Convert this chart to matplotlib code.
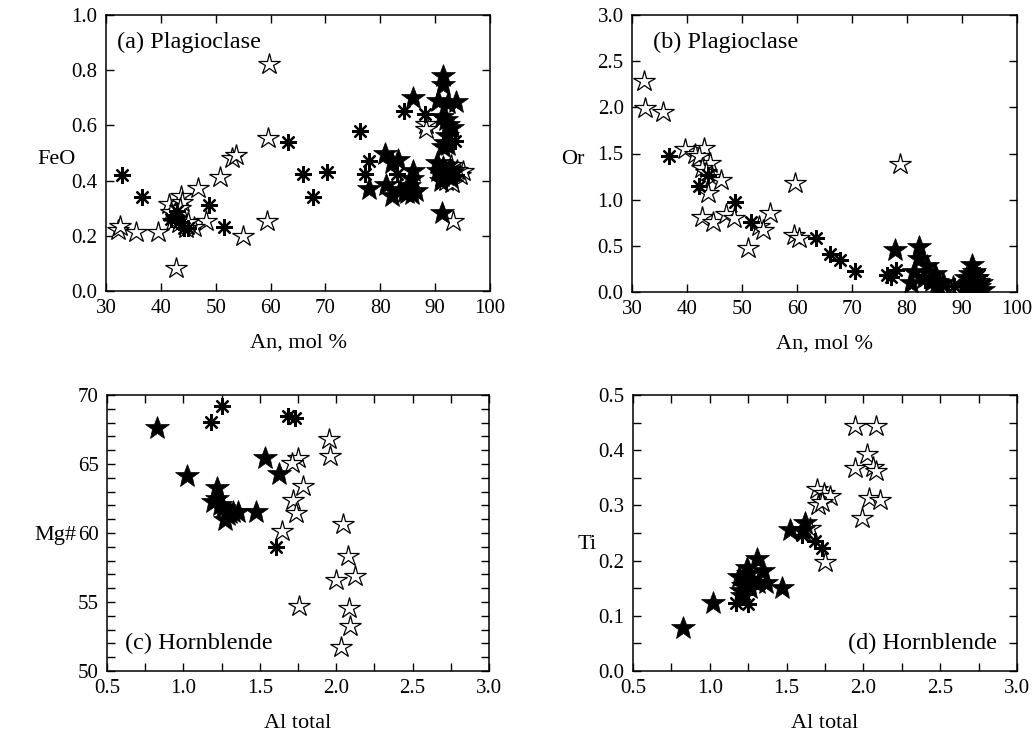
import matplotlib
matplotlib.use("Agg")
import matplotlib.pyplot as plt
from matplotlib.ticker import MultipleLocator, FormatStrFormatter

plt.rcParams['font.family'] = ['Liberation Serif', 'DejaVu Serif']
plt.rcParams['mathtext.fontset'] = 'stix'

# ---------------- Plagioclase: An (mol %) vs FeO ----------------
a_filled_an = [85.9, 91.5, 91.5, 90.6, 92.4, 93.8, 91.2, 92.0, 92.4, 93.0, 92.1, 91.8,
               91.5, 92.4, 90.3, 90.6, 91.2, 92.0, 92.8, 91.5, 92.5, 91.0, 93.0, 91.2,
               80.8, 82.1, 83.3, 86.0, 85.7, 81.0, 82.1, 83.6, 84.8, 85.7, 86.6, 78.0,
               85.2, 84.5]
a_filled_feo = [0.70, 0.78, 0.745, 0.69, 0.68, 0.685, 0.63, 0.62, 0.60, 0.59, 0.56, 0.535,
                0.52, 0.53, 0.465, 0.435, 0.415, 0.42, 0.41, 0.45, 0.44, 0.40, 0.43, 0.283,
                0.495, 0.465, 0.475, 0.434, 0.405, 0.385, 0.343, 0.367, 0.355, 0.353, 0.362, 0.37,
                0.38, 0.36]
a_ast_an = [33.0, 36.6, 48.7, 51.6, 41.8, 42.6, 43.3, 44.2, 44.9, 42.9, 63.2, 66.0,
            67.8, 70.3, 76.3, 77.2, 77.9, 83.0, 84.4, 88.1, 93.6, 92.8, 93.8]
a_ast_feo = [0.422, 0.341, 0.311, 0.232, 0.26, 0.27, 0.25, 0.228, 0.228, 0.29, 0.541, 0.424,
             0.339, 0.43, 0.581, 0.423, 0.472, 0.424, 0.652, 0.643, 0.543, 0.45, 0.42]
a_open_an = [32.2, 32.6, 35.5, 39.4, 42.8, 41.4, 43.7, 43.9, 46.7, 50.8, 52.9, 53.7,
             48.2, 46.1, 54.9, 59.4, 59.6, 59.8, 41.8, 42.8, 43.5, 44.6, 43.3, 42.3,
             45.0, 88.4, 88.4, 93.2, 92.5, 93.5, 94.5, 95.0, 92.0, 93.0, 94.0, 92.8]
a_open_feo = [0.222, 0.235, 0.212, 0.212, 0.083, 0.315, 0.343, 0.321, 0.373, 0.413, 0.482, 0.494,
              0.255, 0.232, 0.201, 0.254, 0.553, 0.824, 0.288, 0.268, 0.30, 0.229, 0.245, 0.255,
              0.25, 0.606, 0.588, 0.252, 0.42, 0.43, 0.42, 0.435, 0.40, 0.39, 0.44, 0.455]

# ---------------- Plagioclase: An (mol %) vs Or ----------------
b_filled_an = [77.8, 82.1, 82.1, 81.2, 80.7, 83.6, 85.1, 85.4, 85.7, 83.0, 84.5, 86.5,
               91.8, 91.5, 90.8, 92.0, 92.5, 91.0, 92.0, 93.0, 93.9, 91.5, 92.8, 90.5,
               92.2, 93.5]
b_filled_or = [0.46, 0.49, 0.355, 0.22, 0.095, 0.28, 0.20, 0.11, 0.04, 0.15, 0.12, 0.10,
               0.29, 0.20, 0.15, 0.12, 0.08, 0.05, 0.02, 0.05, 0.02, 0.10, 0.15, 0.08,
               0.22, 0.10]
b_ast_an = [36.7, 42.1, 43.8, 48.8, 51.7, 63.4, 66.0, 67.8, 70.5, 76.3, 77.0, 78.0,
            83.3, 88.5, 93.0, 92.5]
b_ast_or = [1.47, 1.15, 1.27, 0.98, 0.76, 0.58, 0.41, 0.35, 0.23, 0.18, 0.165, 0.24,
            0.13, 0.07, 0.18, 0.10]
b_open_an = [32.1, 32.3, 35.6, 39.6, 41.4, 43.0, 42.1, 44.1, 42.7, 43.5, 44.5, 46.1,
             43.8, 42.8, 44.7, 47.0, 48.5, 55.0, 53.0, 53.9, 51.0, 59.6, 59.4, 60.3,
             78.8, 88.4, 86.0, 91.0, 93.0, 92.0]
b_open_or = [2.29, 1.99, 1.95, 1.55, 1.50, 1.56, 1.47, 1.40, 1.34, 1.30, 1.25, 1.21,
             1.07, 0.81, 0.76, 0.84, 0.80, 0.86, 0.71, 0.67, 0.48, 1.18, 0.62, 0.58,
             1.39, 0.06, 0.08, 0.10, 0.12, 0.05]

# ---------------- Hornblende: Al total vs Mg# ----------------
c_filled_al = [0.827, 1.025, 1.218, 1.196, 1.24, 1.262, 1.272, 1.305, 1.327, 1.36, 1.475,
               1.534, 1.626, 1.22, 1.29]
c_filled_mg = [67.63, 64.15, 63.24, 62.27, 62.03, 61.79, 60.94, 61.43, 61.55, 61.55, 61.5,
               65.41, 64.25, 62.5, 61.3]
c_ast_al = [1.255, 1.179, 1.687, 1.731, 1.606]
c_ast_mg = [69.2, 68.02, 68.48, 68.31, 59.01]
c_open_al = [1.955, 1.96, 1.752, 1.709, 1.781, 1.72, 1.735, 1.643, 2.047, 2.08, 1.997,
             2.12, 2.084, 2.088, 2.029, 1.757]
c_open_mg = [66.79, 65.58, 65.41, 65.05, 63.4, 62.39, 61.43, 60.17, 60.63, 58.36, 56.6,
             56.9, 54.54, 53.26, 51.76, 54.71]

# ---------------- Hornblende: Al total vs Ti ----------------
d_filled_al = [0.827, 1.023, 1.468, 1.522, 1.62, 1.609, 1.305, 1.349, 1.24, 1.192, 1.229,
               1.273, 1.316, 1.366, 1.218, 1.2, 1.25, 1.26, 1.21]
d_filled_ti = [0.077, 0.123, 0.15, 0.255, 0.268, 0.256, 0.202, 0.181, 0.187, 0.171, 0.165,
               0.165, 0.159, 0.16, 0.154, 0.145, 0.175, 0.15, 0.135]
d_ast_al = [1.171, 1.251, 1.598, 1.685, 1.728, 1.22]
d_ast_ti = [0.123, 0.122, 0.247, 0.236, 0.223, 0.14]
d_open_al = [1.75, 1.696, 1.743, 1.783, 1.707, 1.728, 1.945, 2.082, 2.021, 1.945, 2.065,
             2.082, 2.039, 2.108, 1.99, 1.652]
d_open_ti = [0.197, 0.329, 0.322, 0.317, 0.301, 0.307, 0.443, 0.443, 0.394, 0.367, 0.37,
             0.363, 0.313, 0.31, 0.277, 0.259]

W, H = 1033, 736
fig = plt.figure(figsize=(W / 100, H / 100), dpi=100)


def make_axes(left, top, right, bottom):
    return fig.add_axes([left / W, 1 - bottom / H, (right - left) / W, (bottom - top) / H])


ax_a = make_axes(106, 15, 490, 291)
ax_b = make_axes(632, 15, 1017, 292)
ax_c = make_axes(107, 395, 489, 671)
ax_d = make_axes(633, 395, 1017, 671)

ASTER = (8, 2, 0)


def draw(ax, open_xy, ast_xy, filled_xy):
    ax.plot(*open_xy, ls='none', marker='*', ms=16, mfc='white', mec='black', mew=0.9, zorder=3)
    ax.plot(*ast_xy, ls='none', marker=ASTER, ms=12, mfc='black', mec='black', mew=1.6, zorder=4)
    ax.plot(*filled_xy, ls='none', marker='*', ms=18, mfc='black', mec='black', mew=0.5, zorder=5)


draw(ax_a, (a_open_an, a_open_feo), (a_ast_an, a_ast_feo), (a_filled_an, a_filled_feo))
draw(ax_b, (b_open_an, b_open_or), (b_ast_an, b_ast_or), (b_filled_an, b_filled_or))
draw(ax_c, (c_open_al, c_open_mg), (c_ast_al, c_ast_mg), (c_filled_al, c_filled_mg))
draw(ax_d, (d_open_al, d_open_ti), (d_ast_al, d_ast_ti), (d_filled_al, d_filled_ti))


def style(ax, xlim, ylim, xmaj, ymaj, xmin, ymin, xfmt, yfmt, xlabel, ylabel, ylab_x, ylab_y):
    ax.set_xlim(*xlim)
    ax.set_ylim(*ylim)
    ax.xaxis.set_major_locator(MultipleLocator(xmaj))
    ax.yaxis.set_major_locator(MultipleLocator(ymaj))
    if xmin:
        ax.xaxis.set_minor_locator(MultipleLocator(xmin))
    if ymin:
        ax.yaxis.set_minor_locator(MultipleLocator(ymin))
    ax.xaxis.set_major_formatter(FormatStrFormatter(xfmt))
    ax.yaxis.set_major_formatter(FormatStrFormatter(yfmt))
    ax.tick_params(which='both', direction='in', top=True, right=True,
                   length=6, width=1.0, labelsize=15, pad=6)
    for sp in ax.spines.values():
        sp.set_linewidth(1.1)
    ax.set_xlabel(xlabel, fontsize=16)
    ax.xaxis.set_label_coords(0.5, -0.155)
    ax.set_ylabel(ylabel, fontsize=16, rotation=0, ha='center', va='center')
    ax.yaxis.set_label_coords(ylab_x, ylab_y)


style(ax_a, (30, 100), (0, 1.0), 10, 0.2, None, None, '%d', '%.1f',
      'An, mol %', 'FeO', -0.13, 0.475)
style(ax_b, (30, 100), (0, 3.0), 10, 0.5, None, None, '%d', '%.1f',
      'An, mol %', 'Or', -0.155, 0.48)
style(ax_c, (0.5, 3.0), (50, 70), 0.5, 5, 0.25, 1, '%.1f', '%d',
      'Al total', 'Mg#', -0.135, 0.49)
style(ax_d, (0.5, 3.0), (0, 0.5), 0.5, 0.1, 0.25, 0.05, '%.1f', '%.1f',
      'Al total', 'Ti', -0.12, 0.46)

ax_a.text(0.028, 0.90, '(a) Plagioclase', transform=ax_a.transAxes, fontsize=17.5,
          ha='left', va='center')
ax_b.text(0.054, 0.90, '(b) Plagioclase', transform=ax_b.transAxes, fontsize=17.5,
          ha='left', va='center')
ax_c.text(0.046, 0.10, '(c) Hornblende', transform=ax_c.transAxes, fontsize=17.5,
          ha='left', va='center')
ax_d.text(0.947, 0.10, '(d) Hornblende', transform=ax_d.transAxes, fontsize=17.5,
          ha='right', va='center')

fig.savefig('out.png', dpi=100)
